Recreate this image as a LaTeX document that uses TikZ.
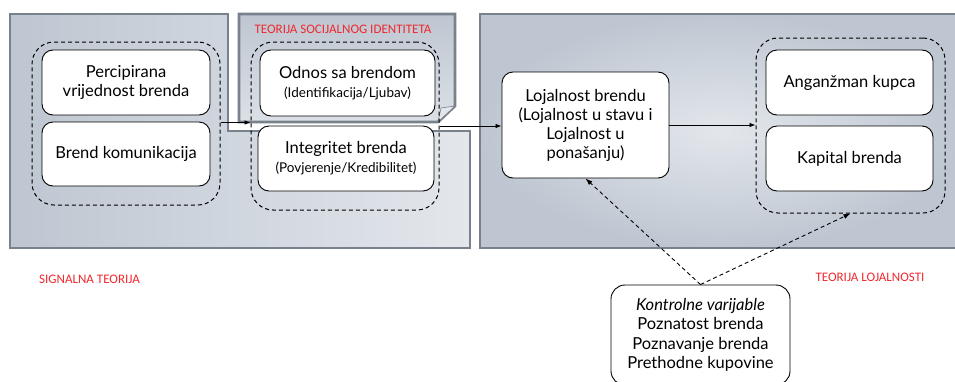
\documentclass[tikz,border=0pt]{standalone}
\usepackage{fontspec}
\setmainfont{Lato}
\newfontfamily\labelfont{Carlito}
\usetikzlibrary{arrows.meta}
\definecolor{panelEdge}{HTML}{78818C}
\definecolor{panelDark}{HTML}{BEC6D1}
\definecolor{panelLight}{HTML}{E3E7EC}
\definecolor{theoryRed}{HTML}{F0282D}
\newcommand\smalltxt{\fontsize{13.5}{16}\selectfont}
\tikzset{
  panel/.style={draw=panelEdge, line width=2.8pt, line join=miter},
  box/.style={draw=black, line width=0.9pt, fill=white, rounded corners=11pt,
    align=center, inner sep=2pt, font=\fontsize{16.5}{19}\selectfont},
  group/.style={draw=black, line width=1pt, dash pattern=on 4pt off 3pt,
    rounded corners=22pt, inner sep=0pt},
  flow/.style={line width=0.8pt, -{Latex[length=6pt,width=4.5pt]}},
  ctrl/.style={line width=0.9pt, dash pattern=on 4pt off 3pt,
    -{Latex[length=7pt,width=5pt]}},
  theory/.style={text=theoryRed, font=\labelfont\fontsize{13}{15}\selectfont, inner sep=0pt}
}
\begin{document}
\begin{tikzpicture}[x=1pt,y=-1pt]
\useasboundingbox (0,0) rectangle (955,381);

% theory panels
\shade[left color=panelDark, right color=panelLight]
  (10,14) -- (228,14) -- (228,131) -- (470,131) -- (470,248) -- (10,248) -- cycle;
\draw[panel]
  (10,14) -- (228,14) -- (228,131) -- (470,131) -- (470,248) -- (10,248) -- cycle;

\shade[inner color=panelLight, outer color=panelDark]
  (480,14) rectangle (962,248);
\draw[panel] (480,14) rectangle (962,248);

\shade[top color=panelDark, bottom color=panelLight!80!panelDark]
  (239,14) -- (455,14) -- (455,106) -- (438,122) -- (239,122) -- cycle;
\draw[panel]
  (239,14) -- (455,14) -- (455,106) -- (438,122) -- (239,122) -- cycle;
\fill[panelLight, draw=panelEdge, line width=0.6pt]
  (438,122) -- (441,108) -- (455,106) -- cycle;

% theory labels
\node[theory] (tsoc) at (343,29) {TEORIJA SOCIJALNOG IDENTITETA};
\node[theory] (tsig) at (89.5,279) {SIGNALNA TEORIJA};
\node[theory] (tloj) at (870,277) {TEORIJA LOJALNOSTI};

% construct boxes
\node[box, minimum width=168pt, minimum height=65pt] (perc) at (126,82.5)
  {Percipirana\\vrijednost brenda};
\node[box, minimum width=168pt, minimum height=64pt] (komun) at (126,154)
  {Brend komunikacija};
\node[box, minimum width=175pt, minimum height=66pt] (odnos) at (347.5,83)
  {Odnos sa brendom\\{\smalltxt (Identifikacija/Ljubav)}};
\node[box, minimum width=176pt, minimum height=65pt] (integ) at (346,158.5)
  {Integritet brenda\\{\smalltxt (Povjerenje/Kredibilitet)}};
\node[box, minimum width=167pt, minimum height=106pt] (loj) at (585.5,125)
  {Lojalnost brendu\\(Lojalnost u stavu i\\Lojalnost u\\ponašanju)};
\node[box, minimum width=167pt, minimum height=65pt] (angaz) at (849.5,82.5)
  {Anganžman kupca};
\node[box, minimum width=167pt, minimum height=65pt] (kapital) at (849.5,158.5)
  {Kapital brenda};
\node[box, minimum width=179pt, minimum height=100pt, rounded corners=14pt,
  font=\fontsize{16.5}{19.5}\selectfont] (kontrol) at (700.5,335)
  {\textit{Kontrolne varijable}\\Poznatost brenda\\Poznavanje brenda\\Prethodne kupovine};

% dashed groupings
\node[group, minimum width=188pt, minimum height=163pt] (gleft) at (126,123.5) {};
\node[group, minimum width=188pt, minimum height=168pt] (gmid) at (345,126) {};
\node[group, minimum width=189pt, minimum height=175pt] (gright) at (850.5,125.5) {};

% relations
\draw[flow] (gleft.east) ++(0,-1) coordinate (a1) -- (a1 -| gmid.west);
\draw[flow] (gmid.east) -- (gmid.east -| loj.west);
\draw[flow] (loj.east) -- (loj.east -| gright.west);
\draw[ctrl] (kontrol.north) -- (loj.south);
\draw[ctrl] (kontrol.north) -- (gright.south);
\end{tikzpicture}
\end{document}
